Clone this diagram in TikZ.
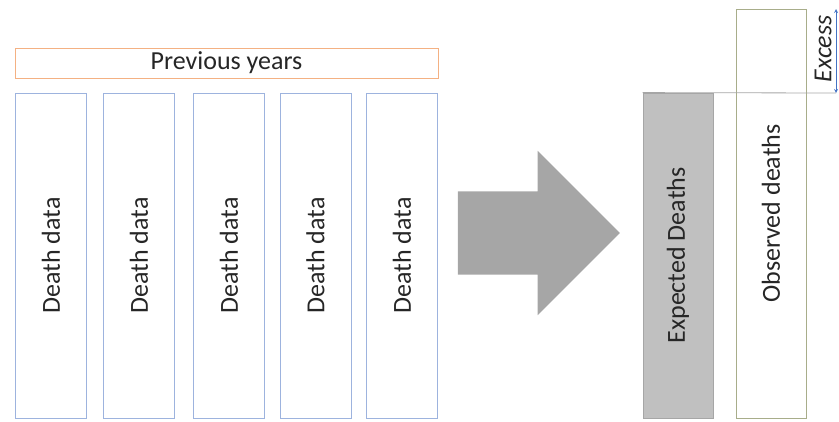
\documentclass[tikz,border=0pt]{standalone}
\usepackage{fontspec}
\setmainfont{Carlito}
\usepackage{tikz}
\usetikzlibrary{shapes.arrows}
\definecolor{YearsLine}{HTML}{F4B183}
\definecolor{DataLine}{HTML}{9DB3DE}
\definecolor{ObsLine}{HTML}{A8AD8A}
\definecolor{ExpFill}{HTML}{C0C0C0}
\definecolor{ExpLine}{HTML}{A6A6A6}
\definecolor{BigArrow}{HTML}{A6A6A6}
\definecolor{TextGray}{HTML}{262626}
\definecolor{ExcessBlue}{HTML}{4472C4}
\tikzset{
  databox/.style={rectangle, draw=DataLine, line width=0.8pt, rotate=90,
    minimum width=325pt, minimum height=71pt, inner sep=0pt, text=TextGray},
}

\begin{document}
\begin{tikzpicture}[x=1pt, y=-1pt, font=\fontsize{26}{30}\selectfont]
      \useasboundingbox (0, 0) rectangle (839, 421);

      \node (Y) [rectangle, draw=YearsLine, line width=0.8pt, minimum width=423pt, minimum height=30pt, inner sep=0pt, text=TextGray] at (226.5, 63) {Previous years};

      \node (D1) [databox] at (51, 255.5) {Death data};
      \node (D2) [databox] at (139, 255.5) {Death data};
      \node (D3) [databox] at (229, 255.5) {Death data};
      \node (D4) [databox] at (315.5, 255.5) {Death data};
      \node (D5) [databox] at (402, 255.5) {Death data};

      \node (A) [single arrow, fill=BigArrow, draw=none, inner sep=0pt, minimum width=164pt, minimum height=162pt, single arrow head extend=40.5pt, single arrow head indent=0pt] at (518, 233) {\vrule height 41.5pt depth 41.5pt width 0pt};

      \node (E) [rectangle, fill=ExpFill, draw=ExpLine, line width=0.8pt, rotate=90, minimum width=325pt, minimum height=70pt, inner sep=0pt, text=TextGray] at (678, 255.5) {Expected Deaths};
      \node (O) [rectangle, draw=ObsLine, line width=0.8pt, rotate=90, minimum width=409pt, minimum height=70pt, inner sep=0pt, text=TextGray] at (771, 213.5) {Observed deaths};

      \coordinate (XT) at (836, 9);
      \coordinate (XB) at (836, 93);
      \draw[ExpLine, line width=0.8pt] (E.north east) -- (XB);
      \draw[<->, >=stealth, ExcessBlue, line width=0.8pt] (XT) -- (XB);
      \node (X) [rotate=90, inner sep=0pt, text=TextGray] at (823, 49) {\itshape Excess};
    \end{tikzpicture}
\end{document}
